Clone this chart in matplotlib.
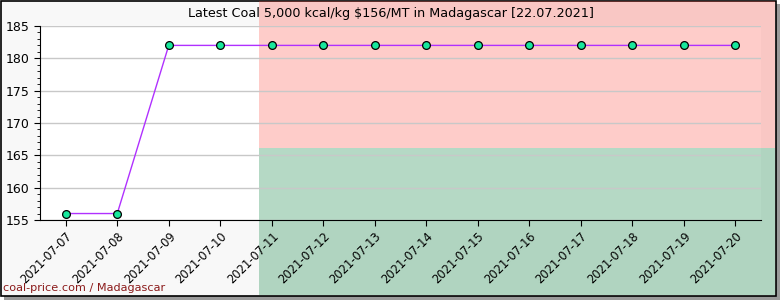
import matplotlib
matplotlib.use("Agg")
import matplotlib.pyplot as plt
from matplotlib.patches import Rectangle
from matplotlib.ticker import MultipleLocator

dates = ["2021-07-07", "2021-07-08", "2021-07-09", "2021-07-10", "2021-07-11",
         "2021-07-12", "2021-07-13", "2021-07-14", "2021-07-15", "2021-07-16",
         "2021-07-17", "2021-07-18", "2021-07-19", "2021-07-20"]
prices = [156, 156, 182, 182, 182, 182, 182, 182, 182, 182, 182, 182, 182, 182]

W, H = 780, 300
fig = plt.figure(figsize=(W / 100, H / 100), dpi=100)
fig.patch.set_facecolor("white")

# frame with drop shadow
fw, fh = 776, 296
fig.add_artist(Rectangle((4 / W, 0), fw / W, (fh) / H, transform=fig.transFigure,
                         facecolor="#9a9a9a", edgecolor="none", zorder=-5))
fig.add_artist(Rectangle((0.5 / W, 4 / H), (fw - 1) / W, (fh - 1) / H,
                         transform=fig.transFigure, facecolor="#f8f8f8",
                         edgecolor="black", linewidth=1.2, zorder=-4))

ax = fig.add_axes([40 / W, 1 - 220 / H, 721 / W, 194 / H])
# white plot area behind the flag
fig.add_artist(Rectangle((40 / W, 1 - 220 / H), 721 / W, 194 / H,
                         transform=fig.transFigure, facecolor="white",
                         edgecolor="none", zorder=-3))
# Madagascar flag overlay
fx0, fx1 = 1 / W, 775 / W
fy0, fy1 = 5 / H, 1 - 1 / H
third = (fx1 - fx0) / 3
half = (fy1 - fy0) / 2
fig.add_artist(Rectangle((fx0 + third, fy0 + half), 2 * third, half,
                         transform=fig.transFigure, facecolor="#fc3d32",
                         edgecolor="none", alpha=0.26, zorder=-2))
fig.add_artist(Rectangle((fx0 + third, fy0), 2 * third, half,
                         transform=fig.transFigure, facecolor="#007e3a",
                         edgecolor="none", alpha=0.29, zorder=-2))

ax.patch.set_alpha(0)
x = list(range(len(dates)))
ax.plot(x, prices, color="#b030ff", linewidth=1, zorder=3)
ax.plot(x, prices, linestyle="none", marker="o", markersize=5.6,
        markerfacecolor="#17e89c", markeredgecolor="black",
        markeredgewidth=0.9, zorder=4)

ax.set_xlim(-0.5, len(dates) - 0.5)
ax.set_ylim(155, 185)
ax.yaxis.set_major_locator(MultipleLocator(5))
ax.yaxis.set_minor_locator(MultipleLocator(1))
ax.set_xticks(x)
ax.set_xticklabels(dates, rotation=45, ha="right", rotation_mode="anchor",
                   fontsize=8.3)
ax.tick_params(axis="y", labelsize=9, length=4)
ax.tick_params(axis="y", which="minor", length=2)
ax.tick_params(axis="x", length=4, pad=3)
ax.grid(axis="y", color="#c8c8c8", linewidth=1)
ax.set_axisbelow(True)
for s in ("top", "right"):
    ax.spines[s].set_visible(False)

fig.text(391 / W, 1 - 13 / H,
         "Latest Coal 5,000 kcal/kg $156/MT in Madagascar [22.07.2021]",
         ha="center", va="center", fontsize=9.2)
fig.text(3 / W, 1 - 288 / H, "coal-price.com / Madagascar", ha="left",
         va="center", fontsize=8.1, color="#8b1a1a")

fig.savefig("out.png", dpi=100)
